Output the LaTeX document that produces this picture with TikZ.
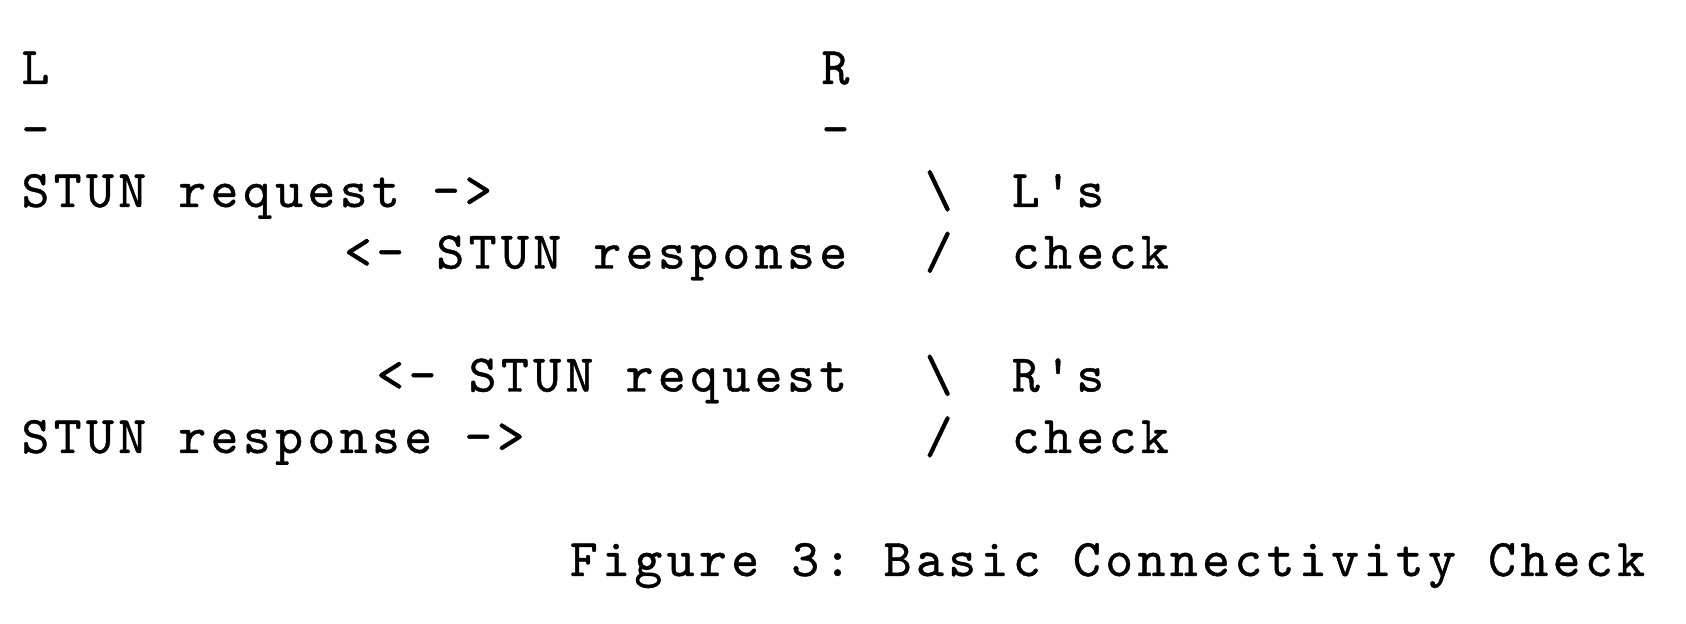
\documentclass[tikz,border=0pt]{standalone}
\usepackage{fontspec}
\setmonofont[LetterSpace=8.4, FakeBold=0.8]{lmmono10-regular.otf}

\tikzset{
  cell/.style={anchor=base west, inner sep=0pt, outer sep=0pt,
    font=\ttfamily\fontsize{26.5pt}{30pt}\selectfont}
}

\begin{document}
\begin{tikzpicture}[x=16.13pt, y=-30.75pt]
        \useasboundingbox (-10.75pt,42pt) rectangle (832.25pt,-270pt);
        \node[cell] (ltop) at (0,0) {L}; \node[cell] (rtop) at (24.8,0) {R};
        \node[cell] (lbar) at (0,1) {-}; \node[cell] (rbar) at (24.8,1) {-};
        \node[cell] (lreq) at (0,2) {STUN request ->};
        \node[cell] (rresp) at (10,3) {<- STUN response};
        \node[cell] (rreq) at (11,5) {<- STUN request};
        \node[cell] (lresp) at (0,6) {STUN response ->};
        \foreach \r/\m/\w in {2/\textbackslash/L's, 3/{/}/check, 5/\textbackslash/R's, 6/{/}/check} {
            \node[cell] (mark\r) at (28,\r) {\m};
            \node[cell] (word\r) at (30.7,\r) {\w};
        }
        \node[cell] (caption) at (17,8) {Figure 3: Basic Connectivity Check};
    \end{tikzpicture}
\end{document}
